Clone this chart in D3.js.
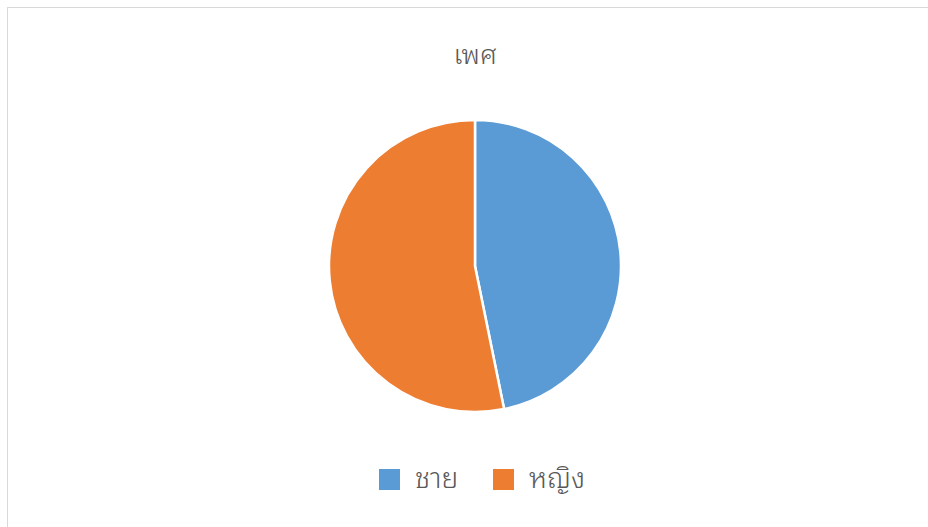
<!DOCTYPE html>
<html>
<head>
<meta charset="utf-8">
<script src="https://cdn.jsdelivr.net/npm/d3@7"></script>
<style>
  html, body { margin: 0; padding: 0; background: #fff; }
  svg { display: block; }
</style>
</head>
<body>
<svg id="chart" width="928" height="527"></svg>
<script>
// Gender breakdown
const categories = ["ชาย", "หญิง"];
const values = [44, 50];
const colors = ["#5B9BD5", "#ED7D31"];
const title = "เพศ";

const W = 928, H = 527;
const svg = d3.select("#chart");
const fontStack = "'Leelawadee UI', 'Noto Sans Thai Looped', 'Noto Sans Thai', Tahoma, 'Noto Sans', 'DejaVu Sans', sans-serif";

// chart frame
svg.append("rect")
  .attr("x", 7.5).attr("y", 7.5)
  .attr("width", W).attr("height", H)
  .attr("fill", "#fff")
  .attr("stroke", "#d9d9d9")
  .attr("stroke-width", 1);

// title
svg.append("text")
  .attr("x", 475).attr("y", 64)
  .attr("text-anchor", "middle")
  .attr("font-family", fontStack)
  .attr("font-size", 27)
  .attr("font-weight", 300)
  .attr("fill", "#595959")
  .text(title);

// pie
const cx = 475, cy = 266, r = 146;
const data = categories.map((c, i) => ({ name: c, value: values[i], color: colors[i] }));
const pie = d3.pie().value(d => d.value).sort(null);
const arc = d3.arc().innerRadius(0).outerRadius(r);

svg.append("g")
  .attr("transform", `translate(${cx},${cy})`)
  .selectAll("path")
  .data(pie(data))
  .join("path")
  .attr("d", arc)
  .attr("fill", d => d.data.color)
  .attr("stroke", "#fff")
  .attr("stroke-width", 2.5)
  .attr("stroke-linejoin", "round");

// legend
const legendX = [379, 493];
const lg = svg.append("g");
data.forEach((d, i) => {
  const g = lg.append("g").attr("transform", `translate(${legendX[i]},469)`);
  g.append("rect")
    .attr("width", 21).attr("height", 21)
    .attr("fill", d.color);
  g.append("text")
    .attr("x", 36).attr("y", 19)
    .attr("font-family", fontStack)
    .attr("font-size", 28)
    .attr("font-weight", 300)
    .attr("fill", "#595959")
    .text(d.name);
});
</script>
</body>
</html>
